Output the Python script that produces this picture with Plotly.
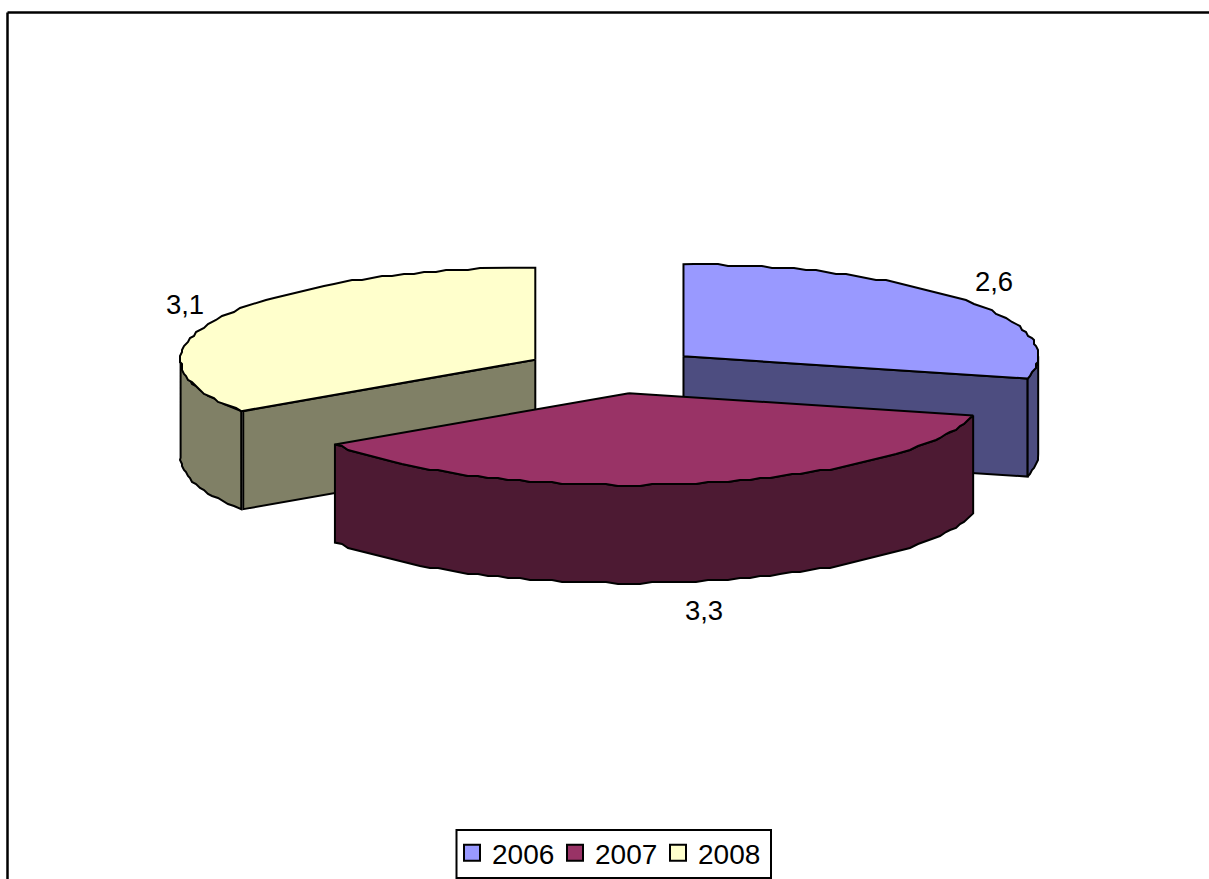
import numpy as np
import plotly.graph_objects as go

# Data
years = ["2006", "2007", "2008"]
values = [2.6, 3.3, 3.1]
top_colors = ["#9999FF", "#993366", "#FFFFCC"]
side_colors = ["#4D4D80", "#4D1A33", "#808066"]

# Projection of the tilted pie onto the pixel-sized axes
CX, CY = 613.6, 370.5
RX, RY = 354.7, 92.0
DEPTH = 98.0
EXPLODE = 0.25
FONT = "Liberation Sans, Arial, sans-serif"
FONT_SIZE = 27.5
LEGEND_SIZE = 28
GRID = 2.0  # light snapping gives the slightly scalloped edge of the original renderer
PAGE_W, PAGE_H = 1209, 900  # drawn a little taller than the window, which crops the frame


def point(apex, deg, r=1.0):
    t = np.radians(deg)
    return apex[0] + r * RX * np.sin(t), apex[1] - r * RY * np.cos(t)


def arc(apex, a0, a1):
    n = max(2, int(abs(a1 - a0) / 1.8) + 1)
    t = np.linspace(a0, a1, n)
    xs, ys = point(apex, t)
    xs, ys = np.array(xs), np.array(ys)
    xs[1:-1] = np.round(xs[1:-1] / GRID) * GRID
    ys[1:-1] = np.round(ys[1:-1] / GRID) * GRID
    return xs, ys


def poly(fig, xs, ys, color):
    fig.add_trace(go.Scatter(
        x=list(xs) + [xs[0]], y=list(ys) + [ys[0]], mode="lines", fill="toself",
        fillcolor=color, line=dict(color="black", width=2, shape="linear"),
        showlegend=False, hoverinfo="skip"))


total = sum(values)
spans = []
start = 0.0
for v in values:
    end = start + v / total * 360
    spans.append((start, end))
    start = end
apexes = []
for a0, a1 in spans:
    mid = (a0 + a1) / 2
    apexes.append(point((CX, CY), mid, EXPLODE))

fig = go.Figure()


def outer_wall(i, a0, a1):
    xs, ys = arc(apexes[i], a0, a1)
    poly(fig, np.r_[xs, xs[::-1]], np.r_[ys, ys[::-1] + DEPTH], side_colors[i])


def radial_wall(i, deg, dx=0.0):
    ex, ey = point(apexes[i], deg)
    ax, ay = apexes[i]
    poly(fig, [ax, ex + dx, ex + dx, ax], [ay, ey, ey + DEPTH, ay + DEPTH], side_colors[i])


def top_face(i):
    a0, a1 = spans[i]
    xs, ys = arc(apexes[i], a0, a1)
    ax, ay = apexes[i]
    poly(fig, np.r_[ax, xs], np.r_[ay, ys], top_colors[i])


# 2006 (back right)
radial_wall(0, spans[0][1])
outer_wall(0, 90, spans[0][1])
top_face(0)
# 2008 (back left)
radial_wall(2, spans[2][0], dx=2.0)
outer_wall(2, spans[2][0], 270)
top_face(2)
# 2007 (front)
outer_wall(1, spans[1][0], spans[1][1])
top_face(1)

# Value labels
label_pos = [(994, 284), (704, 613), (185, 307)]
fig.add_trace(go.Scatter(
    x=[p[0] for p in label_pos], y=[p[1] for p in label_pos],
    mode="text", text=[f"{v}".replace(".", ",") for v in values],
    textposition="middle center",
    textfont=dict(family=FONT, size=FONT_SIZE, color="black"),
    showlegend=False, hoverinfo="skip"))

# Legend entries
for y, c in zip(years, top_colors):
    fig.add_trace(go.Scatter(
        x=[None], y=[None], mode="markers", name=y,
        marker=dict(symbol="square", size=16, color=c, line=dict(color="black", width=2))))

# Chart frame, open on the right and bottom where the picture crops it; legend box
frame = dict(type="line", xref="x", yref="y", line=dict(color="black", width=2.5), layer="above")
shapes = [
    dict(frame, x0=7.5, x1=PAGE_W, y0=12.5, y1=12.5),
    dict(frame, x0=7.5, x1=7.5, y0=12.5, y1=PAGE_H),
    dict(type="rect", xref="x", yref="y", x0=456.5, x1=771, y0=830, y1=878,
         line=dict(color="black", width=2), fillcolor="white", layer="below"),
]

fig.update_layout(
    width=PAGE_W, height=PAGE_H, margin=dict(l=0, r=0, t=0, b=0),
    paper_bgcolor="white", plot_bgcolor="rgba(0,0,0,0)",
    xaxis=dict(range=[0, PAGE_W], visible=False, fixedrange=True),
    yaxis=dict(range=[PAGE_H, 0], visible=False, fixedrange=True),
    shapes=shapes,
    legend=dict(orientation="h", x=452 / PAGE_W, y=1 - 853 / PAGE_H, xanchor="left", yanchor="middle",
                bgcolor="rgba(0,0,0,0)", borderwidth=0, entrywidth=58, entrywidthmode="pixels",
                font=dict(family=FONT, size=LEGEND_SIZE, color="black"),
                itemclick=False, itemdoubleclick=False),
)

fig.write_html("out.html", config={"displayModeBar": False},
               post_script="document.documentElement.style.overflow='hidden';document.body.style.margin='0';document.body.style.overflow='hidden';")
